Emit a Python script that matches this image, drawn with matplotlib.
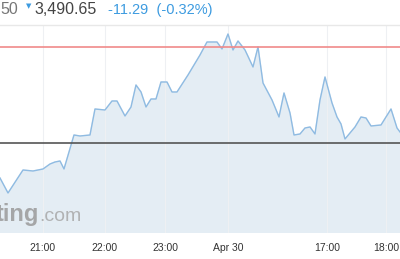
import matplotlib
matplotlib.use("Agg")
import matplotlib.pyplot as plt

# ---- data ----
minutes = [0, 8, 23, 33, 43, 50, 55, 60, 64, 74, 80, 90, 95, 105, 112, 117,
           125, 131, 136, 141, 146, 151, 156, 161, 167, 172, 177, 188, 200,
           207, 217, 222, 228, 233, 238, 245, 253, 258, 263, 272, 279, 284,
           290, 294, 300, 305, 310, 315, 320, 325, 332, 337, 341, 345, 355,
           361, 366, 371, 381, 391, 397, 400]
prices = [3496.5, 3495.0, 3497.3, 3497.2, 3497.4, 3497.9, 3498.1, 3498.2,
          3497.4, 3500.8, 3500.7, 3500.8, 3503.4, 3503.3, 3504.2, 3504.2,
          3502.7, 3503.6, 3505.8, 3505.1, 3503.6, 3504.4, 3504.4, 3506.1,
          3506.1, 3505.1, 3505.1, 3506.8, 3508.8, 3510.1, 3510.1, 3509.4,
          3510.9, 3509.3, 3510.2, 3509.3, 3507.6, 3509.6, 3506.0, 3504.3,
          3502.6, 3505.0, 3503.0, 3500.8, 3500.9, 3501.5, 3501.6, 3500.9,
          3504.3, 3506.6, 3504.0, 3502.6, 3501.9, 3500.4, 3501.6, 3502.6,
          3502.5, 3501.7, 3501.8, 3503.4, 3501.5, 3501.1]
red_level = 3509.6
black_level = 3500.0
tick_pos = [43, 105, 165, 228, 327, 386]
tick_labels = ["21:00", "22:00", "23:00", "Apr 30", "17:00", "18:00"]

plt.rcParams['font.family'] = ['Liberation Sans', 'DejaVu Sans']

fig = plt.figure(figsize=(4.0, 2.59), dpi=100)
ax = fig.add_axes([0, 26 / 259, 1, 208 / 259])

ymin, ymax = 3491.0, 3511.8
ax.fill_between(minutes, prices, ymin, color='#e4edf4', zorder=1)
ax.plot(minutes, prices, color='#8fbbe2', lw=1.0, zorder=3)
ax.axhline(red_level, color='#f08a8a', lw=1.2, zorder=4)
ax.axhline(black_level, color='#555555', lw=1.2, zorder=4)

ax.set_xlim(0, 400)
ax.set_ylim(ymin, ymax)
ax.set_xticks(tick_pos)
ax.set_xticklabels(tick_labels, fontsize=7.5, color='#333333')
ax.tick_params(axis='x', length=0, pad=7)
ax.set_yticks([])
ax.grid(axis='x', color='#eef0f3', lw=0.8, zorder=0)
for side in ['left', 'right', 'bottom']:
    ax.spines[side].set_visible(False)
ax.spines['top'].set_color('#e8e8e8')
ax.spines['top'].set_linewidth(1)

# watermark (cut off at the left edge, as in the original)
ax.text(-4, 3492.2, "ting", fontsize=17, fontweight='bold', color='#9a9a9a',
        alpha=0.85, ha='left', va='baseline', zorder=2)
ax.text(39, 3492.2, ".com", fontsize=14, color='#a8a8a8', alpha=0.85,
        ha='left', va='baseline', zorder=2)

# header
fig.text(0.0, 0.962, "50", fontsize=11.5, color='#777777', va='center')
fig.text(0.066, 0.978, "\u25bc", fontsize=5, color='#3d9be0', va='center',
         family='DejaVu Sans')
fig.text(0.087, 0.962, "3,490.65", fontsize=11.5, color='#444444', va='center')
fig.text(0.27, 0.962, "-11.29  (-0.32%)", fontsize=10.5, color='#3d9be0',
         va='center')

fig.savefig("out.png", dpi=100)
